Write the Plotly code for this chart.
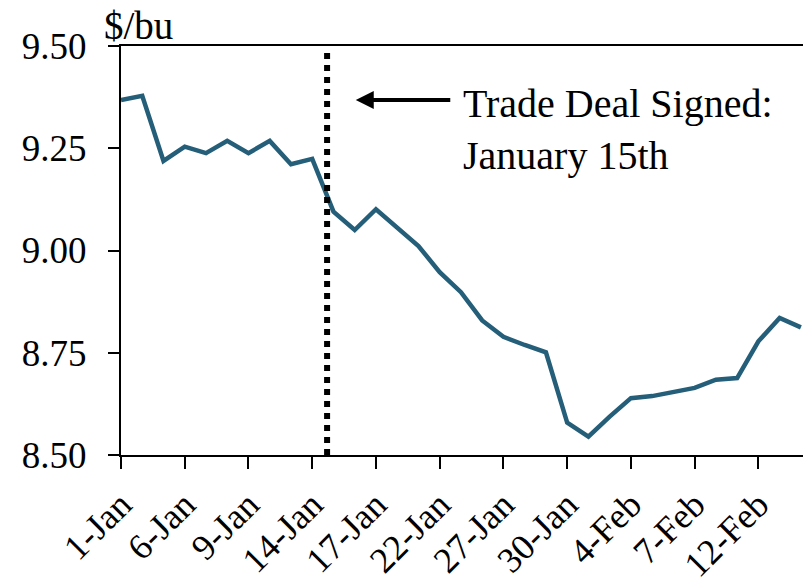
import plotly.graph_objects as go

dates = ["1-Jan", "2-Jan", "3-Jan", "6-Jan", "7-Jan", "8-Jan", "9-Jan", "10-Jan",
         "13-Jan", "14-Jan", "15-Jan", "16-Jan", "17-Jan", "20-Jan", "21-Jan",
         "22-Jan", "23-Jan", "24-Jan", "27-Jan", "28-Jan", "29-Jan", "30-Jan",
         "31-Jan", "3-Feb", "4-Feb", "5-Feb", "6-Feb", "7-Feb", "10-Feb",
         "11-Feb", "12-Feb", "13-Feb", "14-Feb"]
prices = [9.368, 9.378, 9.219, 9.254, 9.238, 9.268, 9.238, 9.268,
          9.211, 9.224, 9.095, 9.050, 9.101, 9.055, 9.011,
          8.947, 8.898, 8.829, 8.789, 8.769, 8.751, 8.579,
          8.545, 8.594, 8.639, 8.644, 8.654, 8.664, 8.684,
          8.688, 8.778, 8.835, 8.812]
tick_labels = ["1-Jan", "6-Jan", "9-Jan", "14-Jan", "17-Jan", "22-Jan",
               "27-Jan", "30-Jan", "4-Feb", "7-Feb", "12-Feb"]
y_ticks = [8.50, 8.75, 9.00, 9.25, 9.50]

deal_pos = 9.7  # category index position of the signing marker

FONT = "Liberation Serif"

fig = go.Figure()
fig.add_trace(go.Scatter(x=dates, y=prices, mode="lines",
                         line=dict(color="#245E79", width=4.5),
                         hoverinfo="skip", showlegend=False))

fig.add_shape(type="line", xref="x", yref="y", x0=deal_pos, x1=deal_pos,
              y0=8.5, y1=9.485, line=dict(color="black", width=6, dash="6px,6px"))

fig.add_annotation(x=11.05, y=9.368, xref="x", yref="y", ax=96, ay=0,
                   axref="pixel", ayref="pixel", text="", showarrow=True,
                   arrowhead=2, arrowsize=0.9, arrowwidth=4, arrowcolor="black")

fig.add_annotation(x=16.0, y=9.295, xref="x", yref="y", xanchor="left",
                   yanchor="middle", align="left", showarrow=False,
                   text="Trade Deal Signed:<br>January 15th",
                   font=dict(family=FONT, size=40, color="black"))

fig.add_annotation(x=-0.028, y=1.0, xref="paper", yref="paper", xanchor="left",
                   yanchor="bottom", showarrow=False, text="$/bu", yshift=-3,
                   font=dict(family=FONT, size=39, color="black"))

fig.update_layout(
    width=803, height=582,
    margin=dict(l=121, r=0, t=46, b=127, autoexpand=False),
    paper_bgcolor="white", plot_bgcolor="white",
    font=dict(family=FONT, size=37, color="black"),
    xaxis=dict(type="category", range=[0, 32.1], tickmode="array",
               tickvals=tick_labels, ticktext=tick_labels, tickangle=-45,
               showline=True, linecolor="black", linewidth=2, mirror=True,
               ticks="outside", ticklen=12, tickwidth=2, tickcolor="black",
               showgrid=False, zeroline=False, automargin=False,
               tickfont=dict(family=FONT, size=36)),
    yaxis=dict(range=[8.5, 9.5], tickvals=y_ticks, tickformat=".2f",
               showline=True, linecolor="black", linewidth=2,
               ticks="outside", ticklen=11, tickwidth=2, tickcolor="black",
               showgrid=False, zeroline=False, ticklabelstandoff=14,
               automargin=False,
               tickfont=dict(family=FONT, size=37)),
)

fig.write_html("out.html", config={"displayModeBar": False},
               post_script="document.body.style.margin='0';"
                           "document.body.style.overflow='hidden';")
